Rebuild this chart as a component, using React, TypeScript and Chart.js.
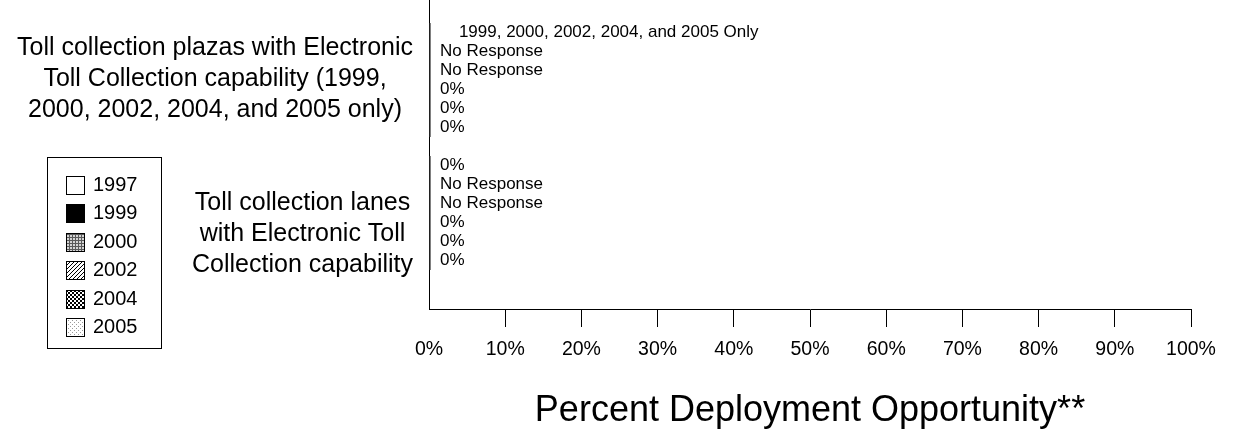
import React, { useEffect, useRef } from 'react';
import { Chart, registerables } from 'chart.js';

Chart.register(...registerables);

// ---- Data ----
const categories: string[][] = [
  ['Toll collection plazas with Electronic', 'Toll Collection capability (1999,', '2000, 2002, 2004, and 2005 only)'],
  ['Toll collection lanes', 'with Electronic Toll', 'Collection capability'],
];
const years = ['1997', '1999', '2000', '2002', '2004', '2005'];

const values1997 = [0, 0];
const values1999 = [0, 0];
const values2000 = [0, 0];
const values2002 = [0, 0];
const values2004 = [0, 0];
const values2005 = [0, 0];

const labels1997 = ['    1999, 2000, 2002, 2004, and 2005 Only', '0%'];
const labels1999 = ['No Response', 'No Response'];
const labels2000 = ['No Response', 'No Response'];
const labels2002 = ['0%', '0%'];
const labels2004 = ['0%', '0%'];
const labels2005 = ['0%', '0%'];

const seriesValues = [values1997, values1999, values2000, values2002, values2004, values2005];
const seriesLabels = [labels1997, labels1999, labels2000, labels2002, labels2004, labels2005];
const seriesFills = ['white', 'black', 'grid', 'diag', 'checker', 'dots'];

const xMin = 0;
const xMax = 100;
const xStep = 10;
const yMin = -0.6015;
const yMax = 1.7218;

const FONT = '"Liberation Sans", Arial, Helvetica, sans-serif';

function makeFill(kind: string): string | CanvasPattern {
  if (kind === 'white') return '#ffffff';
  if (kind === 'black') return '#000000';
  const c = document.createElement('canvas');
  const x = c.getContext('2d')!;
  if (kind === 'grid') {
    c.width = 3; c.height = 3;
    x.fillStyle = '#d4d4d4'; x.fillRect(0, 0, 3, 3);
    x.fillStyle = '#5a5a5a'; x.fillRect(0, 0, 3, 1); x.fillRect(0, 0, 1, 3);
  } else if (kind === 'diag') {
    c.width = 4; c.height = 4;
    x.fillStyle = '#ffffff'; x.fillRect(0, 0, 4, 4);
    x.fillStyle = '#000000';
    for (let i = 0; i < 4; i++) x.fillRect(i, 3 - i, 1, 1);
  } else if (kind === 'checker') {
    c.width = 4; c.height = 4;
    x.fillStyle = '#ffffff'; x.fillRect(0, 0, 4, 4);
    x.fillStyle = '#000000'; x.fillRect(0, 0, 2, 2); x.fillRect(2, 2, 2, 2);
  } else {
    c.width = 4; c.height = 4;
    x.fillStyle = '#ffffff'; x.fillRect(0, 0, 4, 4);
    x.fillStyle = '#9a9a9a'; x.fillRect(0, 0, 1, 1); x.fillRect(2, 2, 1, 1);
  }
  return x.createPattern(c, 'repeat')!;
}

const valueLabelPlugin = {
  id: 'valueLabels',
  afterDatasetsDraw(chart: any) {
    const ctx = chart.ctx;
    ctx.save();
    ctx.font = `17px ${FONT}`;
    ctx.fillStyle = '#000';
    ctx.textAlign = 'left';
    ctx.textBaseline = 'middle';
    chart.data.datasets.forEach((_ds: any, i: number) => {
      const meta = chart.getDatasetMeta(i);
      meta.data.forEach((el: any, j: number) => {
        ctx.fillText(seriesLabels[i][j], el.x + 9, el.y);
      });
    });
    ctx.restore();
  },
};

// Category labels: each block centred on its own widest line, right-aligned to the axis,
// placed at the centre of its category band.
const categoryLabelPlugin = {
  id: 'categoryLabels',
  afterDraw(chart: any) {
    const ctx = chart.ctx;
    const area = chart.chartArea;
    const yScale = chart.scales.y;
    const band = (area.bottom - area.top) / categories.length;
    const lineH = 31;
    ctx.save();
    ctx.font = `25px ${FONT}`;
    ctx.fillStyle = '#000';
    ctx.textAlign = 'center';
    ctx.textBaseline = 'middle';
    categories.forEach((lines, i) => {
      const widest = Math.max(...lines.map((l) => ctx.measureText(l).width));
      const cx = yScale.right - 16 - widest / 2;
      const cy = area.top + band * (i + 0.5) + 2;
      const y0 = cy - ((lines.length - 1) * lineH) / 2;
      lines.forEach((l, k) => ctx.fillText(l, cx, y0 + k * lineH));
    });
    ctx.restore();
  },
};

const boxLegendPlugin = {
  id: 'boxLegend',
  afterDraw(chart: any) {
    const ctx = chart.ctx;
    ctx.save();
    ctx.strokeStyle = '#000';
    ctx.lineWidth = 1;
    ctx.strokeRect(47.5, 157.5, 114, 191);
    chart.data.datasets.forEach((ds: any, i: number) => {
      const cy = 185 + i * 28.5;
      const top = Math.round(cy - 9.5);
      ctx.fillStyle = ds.backgroundColor;
      ctx.fillRect(66, top, 19, 19);
      ctx.strokeStyle = '#000';
      ctx.strokeRect(66.5, top + 0.5, 18, 18);
      ctx.fillStyle = '#000';
      ctx.font = `20px ${FONT}`;
      ctx.textAlign = 'left';
      ctx.textBaseline = 'middle';
      ctx.fillText(ds.label, 93, cy);
    });
    ctx.restore();
  },
};

export default function App() {
  const canvasRef = useRef<HTMLCanvasElement | null>(null);

  useEffect(() => {
    if (!canvasRef.current) return;
    Chart.defaults.font.family = FONT;
    Chart.defaults.color = '#000';

    const datasets = years.map((year, i) => ({
      label: year,
      data: seriesValues[i].map((v, j) => ({ x: v, y: j })),
      backgroundColor: makeFill(seriesFills[i]),
      borderColor: '#808080',
      borderWidth: 1,
      borderSkipped: false as any,
      minBarLength: 2,
      categoryPercentage: 0.857,
      barPercentage: 1,
    }));

    const chart = new Chart(canvasRef.current, {
      type: 'bar',
      data: { datasets } as any,
      options: {
        indexAxis: 'y',
        responsive: true,
        maintainAspectRatio: false,
        animation: false,
        layout: { padding: { left: 0, top: 0, right: 42, bottom: 5 } },
        plugins: { legend: { display: false }, tooltip: { enabled: false } },
        scales: {
          x: {
            type: 'linear',
            position: 'bottom',
            min: xMin,
            max: xMax,
            ticks: {
              stepSize: xStep,
              callback: (v: any) => `${v}%`,
              font: { size: 19.5 },
              color: '#000',
              padding: 11,
              maxRotation: 0,
              autoSkip: false,
            },
            grid: {
              drawOnChartArea: false,
              drawTicks: true,
              tickLength: 18,
              lineWidth: 1,
              color: (c: any) => (c.index === 0 ? 'rgba(0,0,0,0)' : '#000'),
            },
            border: { display: true, color: '#000', width: 1 },
            title: {
              display: true,
              text: 'Percent Deployment Opportunity**',
              font: { size: 36 },
              color: '#000',
              padding: { top: 17.4, bottom: 0 },
            },
          },
          y: {
            type: 'linear',
            reverse: true,
            offset: false,
            bounds: 'data',
            min: yMin,
            max: yMax,
            z: 1,
            afterBuildTicks: (s: any) => {
              s.ticks = categories.map((_, i) => ({ value: i }));
            },
            afterFit: (s: any) => {
              s.width = 429;
              s.paddingTop = 0;
              s.paddingBottom = 0;
            },
            ticks: { display: false, stepSize: 1 },
            grid: { display: false, drawTicks: false, offset: false },
            border: { display: true, color: '#000', width: 1 },
          },
        },
      } as any,
      plugins: [valueLabelPlugin, categoryLabelPlugin, boxLegendPlugin],
    });

    return () => chart.destroy();
  }, []);

  return (
    <div style={{ position: 'absolute', left: 0, top: 0, width: 1233, height: 438 }}>
      <canvas ref={canvasRef} />
    </div>
  );
}
